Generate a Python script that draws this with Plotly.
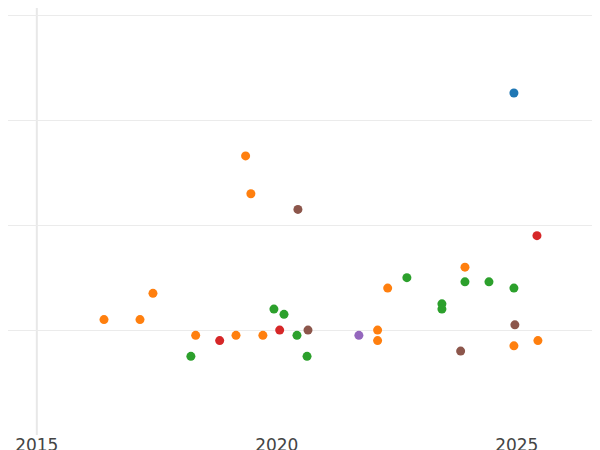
import plotly.graph_objects as go

years = [2024.94, 2019.35, 2019.46, 2020.44, 2025.42, 2023.92, 2022.71, 2023.92, 2024.42, 2022.31,
         2024.94, 2017.42, 2023.44, 2023.44, 2019.94, 2020.15, 2016.40, 2017.15, 2024.96, 2020.06,
         2020.65, 2022.10, 2018.31, 2019.15, 2019.71, 2020.42, 2021.71, 2022.10, 2018.81, 2025.44,
         2024.94, 2023.83, 2018.21, 2020.63]
values = [3.26, 2.66, 2.30, 2.15, 1.90, 1.60, 1.50, 1.46, 1.46, 1.40,
          1.40, 1.35, 1.25, 1.20, 1.20, 1.15, 1.10, 1.10, 1.05, 1.00,
          1.00, 1.00, 0.95, 0.95, 0.95, 0.95, 0.95, 0.90, 0.90, 0.90,
          0.85, 0.80, 0.75, 0.75]
groups = ["blue", "orange", "orange", "brown", "red", "orange", "green", "green", "green", "orange",
          "green", "orange", "green", "green", "green", "green", "orange", "orange", "brown", "red",
          "brown", "orange", "orange", "orange", "orange", "green", "purple", "orange", "red", "orange",
          "orange", "brown", "green", "green"]

colours = {"blue": "#1f77b4", "orange": "#ff7f0e", "green": "#2ca02c",
           "red": "#d62728", "purple": "#9467bd", "brown": "#8c564b"}

fig = go.Figure()
fig.add_trace(go.Scatter(x=years, y=values, mode="markers",
                         marker=dict(size=9, color=[colours[g] for g in groups]),
                         showlegend=False, cliponaxis=False))
fig.add_vline(x=2015, line_color="#e8e8e8", line_width=2, layer="below")
fig.update_layout(width=600, height=450, margin=dict(l=0, r=0, t=0, b=23, autoexpand=False),
                  plot_bgcolor="white", paper_bgcolor="white",
                  font=dict(family="DejaVu Sans", size=17, color="#444"))
fig.update_xaxes(range=[2014.4, 2026.9], tickvals=[2015, 2020, 2025], showgrid=False,
                 zeroline=False, ticks="", ticklabelstandoff=-2, automargin=False)
fig.update_yaxes(range=[0, 4.07], dtick=1, showticklabels=False, gridcolor="#ebebeb",
                 zeroline=False, automargin=False)
fig.write_html("out.html")
